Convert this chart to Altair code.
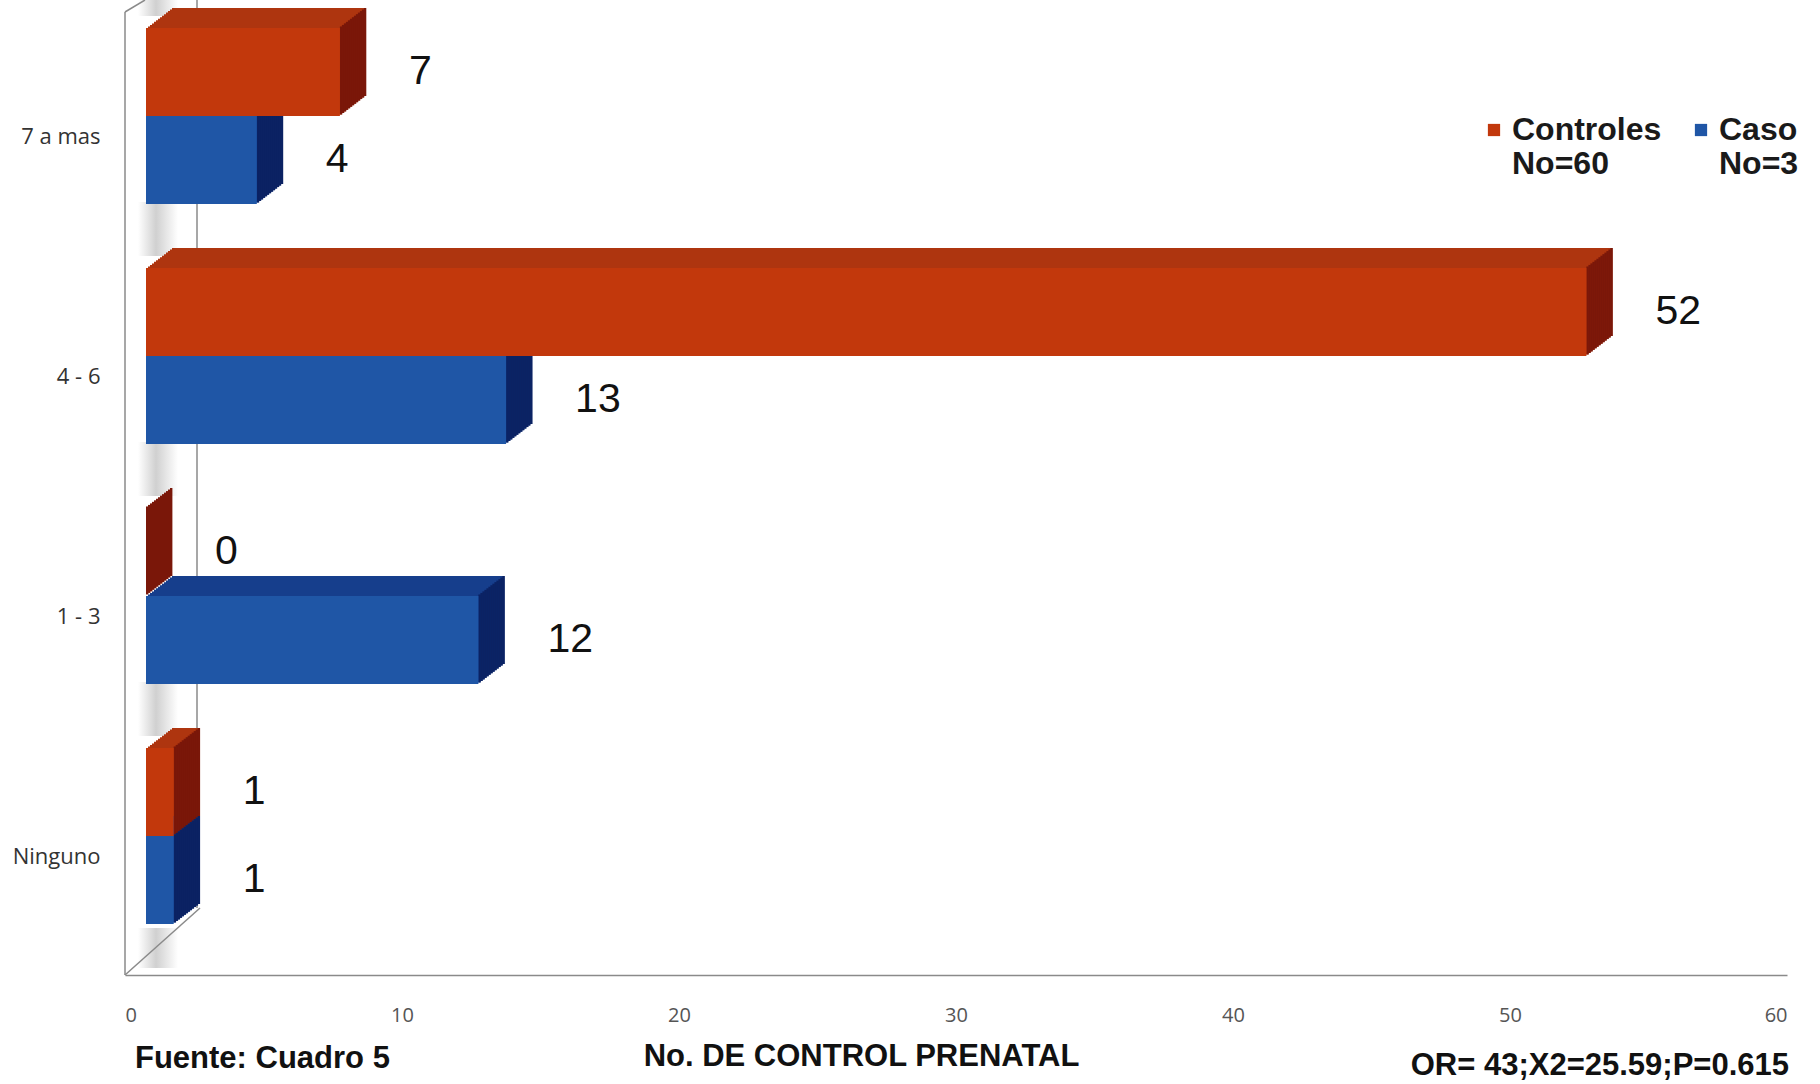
import altair as alt
import pandas as pd

# ---------------- data ----------------
categories = ["7 a mas", "4 - 6", "1 - 3", "Ninguno"]
series = ["Controles", "Caso"]
series_n = ["No=60", "No=3"]
controles = [7, 52, 0, 1]
caso = [4, 13, 12, 1]
x_ticks = [0, 10, 20, 30, 40, 50, 60]
x_title = "No. DE CONTROL PRENATAL"
notes = ["Fuente: Cuadro 5", "OR= 43;X2=25.59;P=0.615"]

# ---------------- styles ----------------
front_colors = ["#C2380C", "#1F56A6"]
top_colors = ["#AE350F", "#163E8C"]
side_colors = ["#7A1709", "#0B2263"]

rows = []
for c, a, b in zip(categories, controles, caso):
    rows.append({"cat": c, "serie": series[0], "valor": a})
    rows.append({"cat": c, "serie": series[1], "valor": b})
df = pd.DataFrame(rows)
cats_df = pd.DataFrame({"cat": categories})

W, H = 1662, 952
STEPS = 13
DEPTH_X, DEPTH_Y = 26.0, 20.0
FRONT_DX = 21
BAR_H = 88
HALF = 44

y_enc = alt.Y(
    "cat:N",
    sort=categories,
    scale=alt.Scale(domain=categories, paddingInner=0.2667, paddingOuter=0.1167),
    axis=alt.Axis(title=None, domain=False, ticks=False, labelPadding=25,
                  labelOffset=21, labelFont="Open Sans", labelFontSize=22,
                  labelColor="#333333"),
)
x_axis = alt.Axis(
    values=x_ticks, title=x_title, grid=False, ticks=False,
    domainColor="#8a8a8a", domainWidth=1.5, offset=23, labelPadding=30,
    labelFont="Open Sans", labelFontSize=20, labelColor="#555555",
    titleFont="Liberation Sans", titleFontWeight="bold", titleFontSize=31,
    titleColor="#111111", titleX=736, titleY=81, titleBaseline="middle",
)
x_enc = alt.X("valor:Q", scale=alt.Scale(domain=[0, 60], nice=False), axis=x_axis)

legend_expr = "".join(
    f"datum.label == '{s}' ? ['{s}', '{n}'] : " for s, n in zip(series, series_n)
) + "datum.label"

legend = alt.Legend(
    title=None, orient="none", legendX=1353, legendY=114, direction="horizontal",
    symbolType="square", symbolSize=150, symbolStrokeWidth=0,
    labelFont="Liberation Sans", labelFontWeight="bold", labelFontSize=32,
    labelColor="#1a1a1a", labelLimit=0, columnPadding=23, labelOffset=2,
    labelExpr=legend_expr,
)

shadow_fill = alt.LinearGradient(
    gradient="linear", x1=0, x2=1, y1=0, y2=0,
    stops=[alt.GradientStop(offset=0, color="#ffffff"),
           alt.GradientStop(offset=0.45, color="#d0d0d0"),
           alt.GradientStop(offset=1, color="#ffffff")],
)

layers = []
frame = pd.DataFrame({"k": [0]})

# shadows on the side wall, in the gaps between groups
layers.append(alt.Chart(cats_df).mark_bar(height=54, yOffset=-127, color=shadow_fill).encode(
    y=y_enc, x=alt.value(13), x2=alt.value(53)))
layers.append(alt.Chart(cats_df).transform_filter(alt.datum.cat == categories[-1]).mark_bar(
    height=40, yOffset=112, color=shadow_fill).encode(
    y=y_enc, x=alt.value(13), x2=alt.value(53)))

# wall / floor frame
rule_style = dict(color="#8a8a8a", strokeWidth=1.5)
layers.append(alt.Chart(frame).mark_rule(**rule_style).encode(
    x=alt.value(0), y=alt.value(12), y2=alt.value(975)))
layers.append(alt.Chart(frame).mark_rule(**rule_style).encode(
    x=alt.value(72), y=alt.value(0), y2=alt.value(908)))
layers.append(alt.Chart(frame).mark_rule(**rule_style).encode(
    x=alt.value(0), x2=alt.value(75), y=alt.value(975), y2=alt.value(908)))
layers.append(alt.Chart(frame).mark_rule(**rule_style).encode(
    x=alt.value(0), x2=alt.value(20), y=alt.value(12), y2=alt.value(0)))

# top faces (union of shifted copies)
for i, s in enumerate(series):
    base = alt.Chart(df).transform_filter(alt.datum.serie == s)
    y0 = -HALF if i == 0 else HALF
    for k in range(1, STEPS + 1):
        ox = FRONT_DX + k * DEPTH_X / STEPS
        oy = y0 - k * DEPTH_Y / STEPS
        layers.append(base.mark_bar(height=BAR_H, xOffset=ox, x2Offset=ox, yOffset=oy,
                                    color=top_colors[i]).encode(x=x_enc, y=y_enc))

# side faces (thin strips)
for i, s in enumerate(series):
    base = alt.Chart(df).transform_filter(alt.datum.serie == s)
    y0 = -HALF if i == 0 else HALF
    for k in range(1, STEPS + 1):
        x0 = FRONT_DX + (k - 1) * DEPTH_X / STEPS
        x1 = FRONT_DX + k * DEPTH_X / STEPS + 0.4
        oy = y0 - k * DEPTH_Y / STEPS
        layers.append(base.mark_bar(height=BAR_H, xOffset=x0, x2Offset=x1, yOffset=oy,
                                    color=side_colors[i]).encode(
            x=x_enc, x2=alt.X2("valor:Q"), y=y_enc))

# front faces
for i, s in enumerate(series):
    base = alt.Chart(df).transform_filter(alt.datum.serie == s)
    y0 = -HALF if i == 0 else HALF
    layers.append(base.mark_bar(height=BAR_H, xOffset=FRONT_DX, x2Offset=FRONT_DX,
                                yOffset=y0).encode(
        x=x_enc, y=y_enc,
        color=alt.Color("serie:N", scale=alt.Scale(domain=series, range=front_colors),
                        legend=legend)))

# value labels
layers.append(alt.Chart(df).mark_text(align="left", baseline="middle", dx=90,
                                      font="Liberation Sans", fontSize=41,
                                      color="#111111").encode(
    x=x_enc, y=y_enc,
    yOffset=alt.YOffset("serie:N", sort=series, scale=alt.Scale(domain=series)),
    text="valor:Q"))

# notes
layers.append(alt.Chart(frame).mark_text(align="left", baseline="middle",
                                         font="Liberation Sans", fontWeight="bold",
                                         fontSize=31, color="#111111").encode(
    x=alt.value(10), y=alt.value(1059), text=alt.value(notes[0])))
layers.append(alt.Chart(frame).mark_text(align="right", baseline="middle",
                                         font="Liberation Sans", fontWeight="bold",
                                         fontSize=31, color="#111111").encode(
    x=alt.value(1664), y=alt.value(1066), text=alt.value(notes[1])))

chart = alt.layer(*layers).properties(
    width=W, height=H,
    padding={"left": 125, "top": 0, "right": 33, "bottom": 132},
    autosize=alt.AutoSizeParams(type="none"),
    background="white",
).configure_view(stroke=None)

chart.save("out.html", embed_options={"renderer": "svg", "actions": False})
